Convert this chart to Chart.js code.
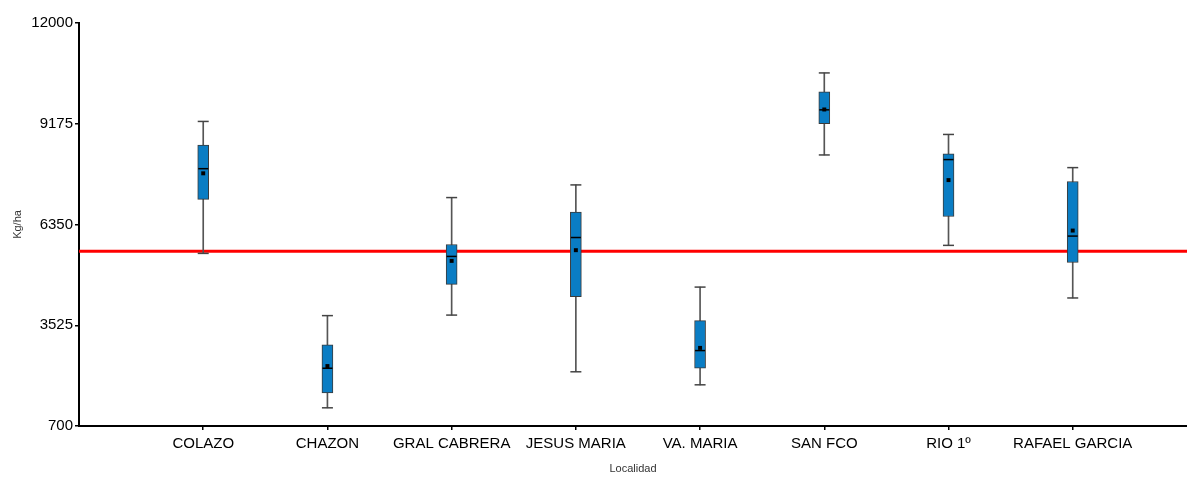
<!DOCTYPE html>
<html lang="es">
<head>
    <meta charset="UTF-8">
    <title>Kg/ha por Localidad</title>
    <style>
        body {
            margin: 0;
            background: #fff;
        }
        canvas {
            display: block;
        }
    </style>
</head>
<body>
    <canvas id="chart" width="1187" height="478"></canvas>

    <script src="https://cdn.jsdelivr.net/npm/chart.js"></script>
    <script>
        // values
        const localidades = ['COLAZO', 'CHAZON', 'GRAL CABRERA', 'JESUS MARIA', 'VA. MARIA', 'SAN FCO', 'RIO 1º', 'RAFAEL GARCIA'];
        const whiskerLow  = [5540, 1210, 3810, 2220, 1855, 8300, 5765, 4290];
        const q1          = [7055, 1625, 4670, 4325, 2320, 9175, 6575, 5285];
        const medians     = [7915, 2320, 5455, 5985, 2815, 9565, 8170, 6025];
        const q3          = [8575, 2975, 5790, 6695, 3655, 10070, 8335, 7555];
        const whiskerHigh = [9240, 3795, 7105, 7460, 4595, 10600, 8875, 7945];
        const means       = [7785, 2380, 5330, 5630, 2890, 9575, 7595, 6180];
        const yTicks = [700, 3525, 6350, 9175, 12000];
        const refValue = 5600;

        const xMax = 8.92;
        const FONT = "'Liberation Sans', Arial, sans-serif";

        const pos = (i) => i + 1;

        const ctx = document.getElementById('chart').getContext('2d');
        new Chart(ctx, {
            type: 'bar',
            data: {
                datasets: [
                    {
                        type: 'line',
                        data: [{x: 0, y: refValue}, {x: xMax, y: refValue}],
                        borderColor: '#ff0000',
                        borderWidth: 3,
                        pointRadius: 0,
                        order: 10
                    },
                    {
                        // whiskers
                        type: 'bar',
                        data: localidades.map((c, i) => ({x: pos(i), y: [whiskerLow[i], whiskerHigh[i]]})),
                        backgroundColor: '#555',
                        barThickness: 1,
                        grouped: false,
                        order: 9
                    },
                    {
                        // boxes
                        type: 'bar',
                        data: localidades.map((c, i) => ({x: pos(i), y: [q1[i], q3[i]]})),
                        backgroundColor: '#0a7dc4',
                        borderColor: '#3a3a3a',
                        borderWidth: 1,
                        borderSkipped: false,
                        barThickness: 11,
                        grouped: false,
                        order: 8
                    },
                    {
                        // caps
                        type: 'scatter',
                        data: localidades.flatMap((c, i) => [{x: pos(i), y: whiskerLow[i]}, {x: pos(i), y: whiskerHigh[i]}]),
                        pointStyle: 'line',
                        pointRadius: 5.5,
                        pointBorderColor: '#444',
                        pointBorderWidth: 1.5,
                        order: 7
                    },
                    {
                        // medians
                        type: 'scatter',
                        data: localidades.map((c, i) => ({x: pos(i), y: medians[i]})),
                        pointStyle: 'line',
                        pointRadius: 5,
                        pointBorderColor: '#000',
                        pointBorderWidth: 1.5,
                        order: 6
                    },
                    {
                        // means
                        type: 'scatter',
                        data: localidades.map((c, i) => ({x: pos(i), y: means[i]})),
                        pointStyle: 'rect',
                        pointRadius: 2.8,
                        pointBackgroundColor: '#000',
                        pointBorderWidth: 0,
                        order: 5
                    }
                ]
            },
            options: {
                responsive: false,
                animation: false,
                layout: {
                    autoPadding: false,
                    padding: {top: 23, right: 0, bottom: 0, left: 0}
                },
                plugins: {
                    legend: {display: false},
                    tooltip: {enabled: false}
                },
                scales: {
                    x: {
                        type: 'linear',
                        min: 0,
                        max: xMax,
                        offset: false,
                        afterBuildTicks: (axis) => {
                            axis.ticks = localidades.map((c, i) => ({value: pos(i)}));
                        },
                        afterFit: (scale) => {
                            scale.height = 52;
                            scale.paddingRight = 0;
                            scale.paddingLeft = 0;
                        },
                        ticks: {
                            callback: (value) => localidades[value - 1] || '',
                            color: '#000',
                            font: {family: FONT, size: 15},
                            padding: 5,
                            maxRotation: 0,
                            autoSkip: false
                        },
                        grid: {
                            offset: false,
                            drawOnChartArea: false,
                            drawTicks: true,
                            tickLength: 4,
                            color: '#000',
                            lineWidth: 1.5
                        },
                        border: {color: '#000', width: 2},
                        title: {
                            display: true,
                            text: 'Localidad',
                            color: '#333',
                            font: {family: FONT, size: 11},
                            padding: {top: 0, bottom: 2}
                        }
                    },
                    y: {
                        min: 700,
                        max: 12000,
                        afterBuildTicks: (axis) => {
                            axis.ticks = yTicks.map(v => ({value: v}));
                        },
                        afterFit: (scale) => {
                            scale.width = 79;
                        },
                        ticks: {
                            callback: (value) => String(value),
                            color: '#000',
                            font: {family: FONT, size: 15},
                            padding: 2
                        },
                        grid: {
                            drawOnChartArea: false,
                            drawTicks: true,
                            tickLength: 4,
                            color: '#000',
                            lineWidth: 1.5
                        },
                        border: {color: '#000', width: 2},
                        title: {
                            display: true,
                            text: 'Kg/ha',
                            color: '#333',
                            font: {family: FONT, size: 11},
                            padding: {top: 11, bottom: 0}
                        }
                    }
                }
            }
        });
    </script>
</body>
</html>
